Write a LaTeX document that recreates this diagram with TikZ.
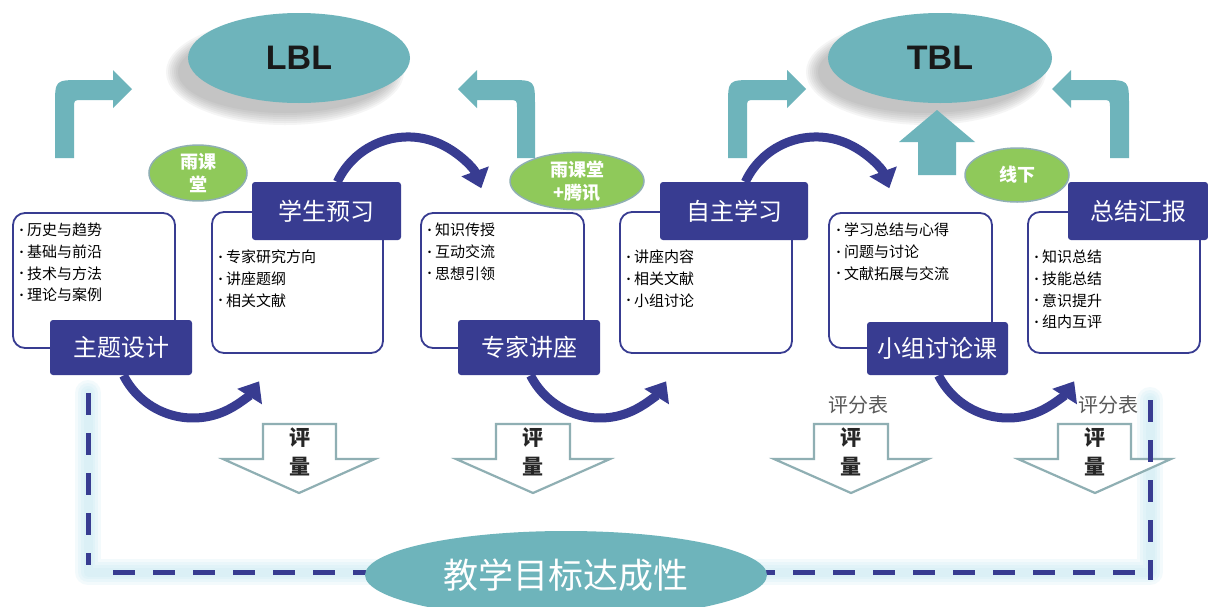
\documentclass[tikz,border=0pt]{standalone}
\usepackage{fontspec}
\setmainfont{Noto Sans CJK SC}
\newfontfamily\lib{Liberation Sans}
\newfontfamily\dvs{DejaVu Sans}
\usetikzlibrary{shapes.geometric,arrows.meta}
\definecolor{teal1}{HTML}{6EB4BB}
\definecolor{navy1}{HTML}{383C91}
\definecolor{green1}{HTML}{8FC95A}
\definecolor{evalc}{HTML}{8FAFB3}
\definecolor{glow}{HTML}{C9E9F3}
\newcommand\bul{\makebox[8pt][l]{\raisebox{2.2pt}{\dvs\fontsize{8.5}{8.5}\selectfont •}}}
\tikzset{
  titlebox/.style={rectangle, rounded corners=3pt, fill=navy1, text=white,
    font=\fontsize{24}{28}\selectfont, inner sep=0},
  wbox/.style={rectangle, rounded corners=12pt, draw=navy1, line width=1.8pt, fill=white, inner sep=0},
  item/.style={anchor=west, inner sep=0, font=\fontsize{15}{18}\selectfont, text=black},
  gell/.style={ellipse, fill=green1, draw=evalc, line width=1.5pt, text=white,
    font=\fontsize{18}{23}\selectfont\bfseries, align=center, inner sep=0},
  bigell/.style={ellipse, fill=teal1, inner sep=0},
  tealarrow/.style={fill=teal1},
  curv/.style={draw=navy1, line width=9pt, -{Triangle[length=18pt,width=28pt]}},
  evalarrow/.style={draw=evalc, line width=2.2pt, fill=white, line join=miter},
  evaltext/.style={font=\fontsize{21}{24}\selectfont\bfseries, text=black!85, inner sep=0},
  score/.style={font=\fontsize{20}{24}\selectfont, text=black!65, inner sep=0},
  dashline/.style={draw=navy1, line width=5pt, dash pattern=on 22pt off 18pt},
  glowline/.style={draw=glow, line join=round, line cap=round}
}
\begin{document}
\begin{tikzpicture}[x=1pt, y=-1pt]
\useasboundingbox (0,0) rectangle (1208,606);
\fill[white] (0,0) rectangle (1208,606);

% shadows of top ellipses
\foreach \k in {0,...,6}{
  \fill[black!55, opacity=0.07] (285,72) ellipse [x radius={119-2*\k}, y radius={53-2*\k}];
  \fill[black!55, opacity=0.07] (926,72) ellipse [x radius={120-2*\k}, y radius={53-2*\k}];
}
\node[bigell, minimum width=222pt, minimum height=90pt, font=\lib\bfseries\fontsize{34}{40}\selectfont, text=black!90] (lbl) at (299,58) {LBL};
\node[bigell, minimum width=224pt, minimum height=90pt, font=\lib\bfseries\fontsize{34}{40}\selectfont, text=black!90] (tbl) at (940,58) {TBL};

% teal bent arrows
\fill[tealarrow] (55,158) -- (55,106) .. controls (55,80) .. (81,80) -- (113,80) -- (113,70) -- (132,89) -- (113,108) -- (113,100) -- (82,100) .. controls (74,100) .. (74,108) -- (74,158) -- cycle;
\fill[tealarrow] (535,158) -- (535,106) .. controls (535,80) .. (509,80) -- (477,80) -- (477,70) -- (458,89) -- (477,108) -- (477,100) -- (508,100) .. controls (517,100) .. (517,108) -- (517,158) -- cycle;
\fill[tealarrow] (728,158) -- (728,106) .. controls (728,80) .. (754,80) -- (787,80) -- (787,70) -- (806,89) -- (787,108) -- (787,100) -- (755,100) .. controls (747,100) .. (747,108) -- (747,158) -- cycle;
\fill[tealarrow] (1129,158) -- (1129,106) .. controls (1129,80) .. (1103,80) -- (1071,80) -- (1071,70) -- (1052,89) -- (1071,108) -- (1071,100) -- (1102,100) .. controls (1110,100) .. (1110,108) -- (1110,158) -- cycle;
\fill[tealarrow] (918,175) -- (918,142) -- (899,142) -- (937,110) -- (975,142) -- (956,142) -- (956,175) -- cycle;

% curved navy arrows
\coordinate (u1) at (337.3,182);
\coordinate (u2) at (745.3,182);
\coordinate (d1) at (123.5,375.4);
\coordinate (d2) at (530.5,375.4);
\coordinate (d3) at (938.5,375.4);
\draw[curv] (u1) arc [start angle=-155, end angle=-20, radius=78];
\draw[curv] (u2) arc [start angle=-155, end angle=-20, radius=78];
\draw[curv] (d1) arc [start angle=153, end angle=32, radius=78];
\draw[curv] (d2) arc [start angle=153, end angle=32, radius=78];
\draw[curv] (d3) arc [start angle=153, end angle=32, radius=78];

% white content boxes
\node[wbox, minimum width=162pt, minimum height=135pt] (w1) at (94,280.5) {};
\node[wbox, minimum width=171pt, minimum height=141pt] (w2) at (297.5,282.5) {};
\node[wbox, minimum width=163pt, minimum height=135pt] (w3) at (502.5,280.5) {};
\node[wbox, minimum width=172pt, minimum height=141pt] (w4) at (706,282.5) {};
\node[wbox, minimum width=163pt, minimum height=135pt] (w5) at (910.5,280.5) {};
\node[wbox, minimum width=172pt, minimum height=141pt] (w6) at (1114,282.5) {};

% bullet items
\foreach \t [count=\i] in {历史与趋势,基础与前沿,技术与方法,理论与案例}
  \node[item] (a\i) at (19,{230+21.7*(\i-1)}) {\bul\t};
\foreach \t [count=\i] in {专家研究方向,讲座题纲,相关文献}
  \node[item] (b\i) at (218,{257+21.7*(\i-1)}) {\bul\t};
\foreach \t [count=\i] in {知识传授,互动交流,思想引领}
  \node[item] (c\i) at (427,{230+21.7*(\i-1)}) {\bul\t};
\foreach \t [count=\i] in {讲座内容,相关文献,小组讨论}
  \node[item] (d\i) at (626,{257+21.7*(\i-1)}) {\bul\t};
\foreach \t [count=\i] in {学习总结与心得,问题与讨论,文献拓展与交流}
  \node[item] (e\i) at (836,{230+21.7*(\i-1)}) {\bul\t};
\foreach \t [count=\i] in {知识总结,技能总结,意识提升,组内互评}
  \node[item] (f\i) at (1034,{257+21.7*(\i-1)}) {\bul\t};

% title boxes
\node[titlebox, minimum width=142pt, minimum height=55pt] (t1) at (121,347.5) {主题设计};
\node[titlebox, minimum width=149pt, minimum height=58pt] (t2) at (326.5,211) {学生预习};
\node[titlebox, minimum width=142pt, minimum height=55pt] (t3) at (529,347.5) {专家讲座};
\node[titlebox, minimum width=148pt, minimum height=58pt] (t4) at (734,211) {自主学习};
\node[titlebox, minimum width=141pt, minimum height=53pt] (t5) at (937.5,348.5) {小组讨论课};
\node[titlebox, minimum width=140pt, minimum height=58pt] (t6) at (1138,211) {总结汇报};

% green ellipses
\node[gell, minimum width=98pt, minimum height=54pt] (g1) at (198,173) {雨课\\堂};
\node[gell, minimum width=134pt, minimum height=54pt] (g2) at (577,181) {雨课堂\\+腾讯};
\node[gell, minimum width=104pt, minimum height=54pt] (g3) at (1017,175) {线下};

% soft glow of dashed frame
\foreach \w in {26,20,14,9}
  \draw[glowline, line width=\w pt, opacity=0.22] (88,393) -- (88,572) -- (1150,572) -- (1150,400);

% evaluation arrows
\draw[evalarrow] (263,424) -- (336,424) -- (336,459) -- (375,459) -- (299,493) -- (223,459) -- (263,459) -- cycle;
\draw[evalarrow] (496,424) -- (570,424) -- (570,459) -- (610,459) -- (533,493) -- (456,459) -- (496,459) -- cycle;
\draw[evalarrow] (814,424) -- (888,424) -- (888,459) -- (928,459) -- (851,493) -- (774,459) -- (814,459) -- cycle;
\draw[evalarrow] (1058,424) -- (1131,424) -- (1131,459) -- (1171,459) -- (1095,493) -- (1018,459) -- (1058,459) -- cycle;
\foreach \x [count=\i] in {300,533,851,1095}{
  \node[evaltext] (p\i) at (\x,438) {评};
  \node[evaltext] (q\i) at (\x,467) {量};
}
\node[score] (s1) at (858,405) {评分表};
\node[score] (s2) at (1108,405) {评分表};

% dashed frame
\coordinate (fl1) at (88,393);
\coordinate (fl2) at (88,565);
\coordinate (fb1) at (113,572);
\coordinate (fb2) at (1140,572);
\coordinate (fr1) at (1150,400);
\coordinate (fr2) at (1150,580);
\draw[dashline] (fl1) -- (fl2);
\draw[dashline] (fb1) -- (fb2);
\draw[dashline] (fr1) -- (fr2);

% goal ellipse
\node[bigell, minimum width=402pt, minimum height=88pt, text=white, font=\fontsize{35}{40}\selectfont] (goal) at (566,575) {\raisebox{2pt}{教学目标达成性}};
\end{tikzpicture}
\end{document}
